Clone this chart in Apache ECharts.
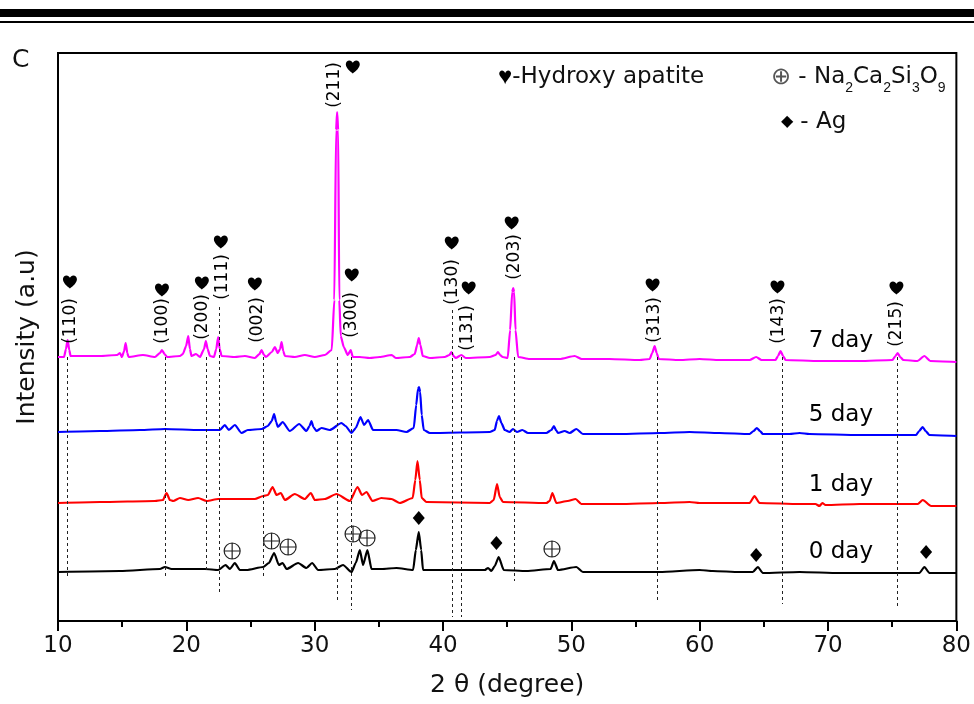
<!DOCTYPE html>
<html>
<head>
<meta charset="utf-8">
<script src="https://cdn.jsdelivr.net/npm/echarts@6/dist/echarts.min.js"></script>
<style>
  html, body { margin: 0; padding: 0; background: #fff; }
  #chart { width: 974px; height: 704px; }
</style>
</head>
<body>
<div id="chart"></div>
<script>
// XRD patterns [2θ (deg), intensity (a.u., stacked)] for each soaking time
const day0 = [
  [10,49],[14.83,50],[17.94,52],[18.33,54],[18.85,52],[21.45,52],[22.48,51],[23.06,56],[23.39,52],[23.78,58],
  [24.17,51],[24.69,51],[25.99,54],[26.43,58],[26.84,68],[27.21,56],[27.5,58],[27.81,52],[28.71,58],[29.36,53],
  [29.8,58],[30.27,51],[31.57,52],[32.21,56],[32.87,49],[33.2,58],[33.52,71],[33.77,56],[34.11,71],[34.43,52],
  [35.2,52],[36.37,53],[37.67,51],[37.88,71],[38.11,89],[38.3,71],[38.44,51],[41.3,51],[43.25,51],[43.51,53],
  [43.77,50],[44.03,55],[44.34,64],[44.73,51],[46.5,50],[48.39,52],[48.64,60],[48.96,51],[50.39,54],[50.9,49],
  [53.76,49],[56.87,49],[59.99,51],[61.02,50],[63.1,49],[64.14,49],[64.53,54],[64.92,48],[67.78,49],[70.89,48],
  [77.12,48],[77.51,54],[77.9,48],[80,48]
];
const day1 = [
  [10,118],[13.27,119],[17.55,120],[18.17,121],[18.46,128],[18.72,121],[18.98,120],[19.5,123],[20.15,121],[20.92,123],
  [21.58,120],[22.48,122],[24.17,122],[25.34,122],[25.99,125],[26.35,126],[26.72,134],[27.03,126],[27.36,128],[27.68,121],
  [28.45,127],[29.23,122],[29.7,128],[30.01,121],[30.79,122],[31.7,127],[32.74,120],[33.34,134],[33.69,126],[34.04,129],
  [34.5,120],[35.2,123],[35.98,122],[36.63,118],[37.64,123],[37.84,141],[38.01,160],[38.19,141],[38.34,123],[38.71,119],
  [43.64,118],[43.95,121],[44.21,137],[44.42,124],[44.67,119],[48.05,118],[48.31,120],[48.52,128],[48.83,118],[49.71,120],
  [50.33,122],[50.78,117],[53.76,117],[56.87,118],[59.21,119],[59.99,118],[63.89,118],[64.27,125],[64.66,118],[67.78,117],
  [69.02,117],[69.33,115],[69.56,118],[69.8,116],[72.45,117],[76.99,117],[77.38,121],[78.03,115],[80,115]
];
const day5 = [
  [10,189],[13.27,190],[16.38,191],[18.33,192],[21.06,191],[22.61,191],[23.0,196],[23.31,191],[23.78,196],[24.3,188],
  [24.79,191],[25.88,192],[26.35,195],[26.65,200],[26.84,207],[27.0,199],[27.13,194],[27.5,199],[28.06,190],[28.79,197],
  [29.36,190],[29.6,195],[29.75,200],[29.9,194],[30.14,190],[30.53,193],[31.18,191],[32.09,198],[32.4,195],[32.87,188],
  [33.2,193],[33.57,204],[33.85,196],[34.16,201],[34.55,191],[36.37,191],[37.15,189],[37.72,193],[37.91,216],[38.05,232],
  [38.13,234],[38.22,229],[38.34,206],[38.5,191],[38.97,188],[43.64,189],[44.03,191],[44.2,200],[44.36,205],[44.55,198],
  [44.81,191],[45.19,189],[45.45,192],[45.76,189],[46.18,191],[46.62,188],[48.05,188],[48.45,191],[48.64,195],[48.8,191],
  [48.96,188],[49.48,190],[49.87,188],[50.39,192],[50.9,187],[53.76,187],[56.87,188],[59.21,189],[61.55,188],[63.89,187],
  [64.2,190],[64.45,193],[64.7,190],[64.92,187],[67.0,187],[67.78,188],[68.55,187],[72.45,186],[76.86,186],[77.1,190],
  [77.38,194],[77.6,190],[77.9,186],[80.0,185]
];
const day7 = [
  [10.0,264],[10.47,264],[10.62,272],[10.75,281],[10.88,271],[10.98,265],[13.27,265],[14.6,266],[14.83,268],[14.98,264],
  [15.15,270],[15.27,278],[15.4,268],[15.5,264],[16.62,266],[17.55,264],[17.95,268],[18.1,271],[18.3,267],[18.5,264],
  [19.5,265],[19.73,267],[19.98,275],[20.15,285],[20.28,272],[20.4,265],[20.75,267],[21.06,264],[21.38,272],[21.52,280],
  [21.66,272],[21.84,265],[22.15,264],[22.33,272],[22.48,284],[22.6,272],[22.75,265],[23.78,264],[24.56,265],[25.34,263],
  [25.7,267],[25.86,271],[26.05,266],[26.2,264],[26.66,269],[26.9,274],[27.12,268],[27.3,272],[27.42,279],[27.55,270],
  [27.68,265],[28.45,264],[29.23,266],[30.01,264],[30.79,266],[31.33,271],[31.53,321],[31.67,491],[31.75,509],[31.83,491],
  [31.92,321],[32.03,285],[32.27,274],[32.58,266],[32.81,271],[32.97,264],[33.51,264],[34.29,263],[35.07,264],[36.0,266],
  [36.32,263],[37.41,264],[37.8,267],[37.98,276],[38.11,283],[38.24,276],[38.42,265],[38.97,263],[40.13,264],[40.5,266],
  [40.66,269],[40.82,265],[40.99,263],[41.43,266],[41.77,263],[43.64,264],[44.1,266],[44.28,269],[44.45,266],[44.65,264],
  [45.04,263],[45.23,291],[45.39,329],[45.47,333],[45.54,329],[45.65,291],[45.85,264],[46.75,262],[49.09,262],[50.26,265],
  [50.8,262],[52.98,262],[55.32,261],[56.1,262],[56.3,268],[56.49,275],[56.65,268],[56.81,262],[58.43,261],[59.99,262],
  [61.55,261],[63.89,261],[64.4,264],[64.82,261],[65.91,261],[66.1,265],[66.3,270],[66.5,265],[66.69,261],[69.33,260],
  [72.45,260],[75.02,261],[75.25,265],[75.43,268],[75.62,264],[75.87,261],[76.96,260],[77.51,265],[77.97,260],[80.0,259]
];

// Hydroxyapatite reflections: Miller indices and 2θ of the guide lines
const hklNames  = ['(110)','(100)','(200)','(111)','(002)','(211)','(300)','(130)','(131)','(203)','(313)','(143)','(215)'];
const hklAngles = [10.72, 18.33, 21.58, 22.54, 26.0, 31.75, 32.87, 40.71, 41.44, 45.54, 56.7, 66.44, 75.37];
// vertical extent of each dashed guide (a.u.)
const guideTop    = [264, 264, 264, 314, 264, 264, 264, 311, 264, 264, 264, 264, 264];
const guideBottom = [42, 43, 48, 29, 44, 21, 11, 4, 4, 40, 18, 17, 13];
// anchor of each index label and its heart marker [2θ, a.u.]
const hklLabelAt = [[10.99,300],[18.18,300],[21.29,304],[22.85,344],[25.57,301],[31.57,536],[32.89,306],
                    [40.76,339],[41.92,293],[45.58,364],[56.48,301],[66.14,300],[75.33,297]];
const heartAt    = [[10.93,339],[18.1,331],[21.21,338],[22.69,379],[25.34,337],[32.97,554],[32.89,346],
                    [40.68,378],[42.0,333],[45.35,398],[56.33,336],[66.06,334],[75.33,333]];

// Na2Ca2Si3O9 and Ag reflections marked on the as-prepared sample
const silicateAt = [[23.57,70],[26.64,80],[27.93,74],[32.99,87],[34.08,83],[48.49,72]];
const silverAt   = [[38.11,103],[44.16,78],[64.4,66],[77.64,69]];

// trace names and where their captions sit
const dayNames   = ['0 day', '1 day', '5 day', '7 day'];
const dayColors  = ['#000000', '#ff0000', '#0000ff', '#ff00ff'];
const dayCaption = [[71.0,69],[71.0,136],[71.0,206],[71.0,280]];
const xTicks = { min: 10, max: 80, step: 10 };

const FONT = 'DejaVu Sans';
const HEART = 'path://M12,22C12,22,1,14.8,1,7.6C1,4,3.6,1.5,6.6,1.5C9.1,1.5,11,3,12,5.2C13,3,14.9,1.5,17.4,1.5C20.4,1.5,23,4,23,7.6C23,14.8,12,22,12,22Z';
const OPLUS = 'path://M1,10A9,9,0,1,1,19,10A9,9,0,1,1,1,10ZM1,10L19,10M10,1L10,19';

const traces = [day0, day1, day5, day7];

const chart = echarts.init(document.getElementById('chart'), null, { renderer: 'canvas' });

const series = [
  {
    // dashed guides for the hydroxyapatite reflections
    type: 'line', data: [], z: 1, silent: true,
    markLine: {
      silent: true, symbol: ['none', 'none'], animation: false,
      label: { show: false },
      lineStyle: { color: '#222', width: 1, type: [3, 3] },
      data: hklAngles.map((a, i) => [{ coord: [a, guideTop[i]] }, { coord: [a, guideBottom[i]] }])
    }
  }
];

traces.forEach((d, i) => {
  series.push({
    name: dayNames[i], type: 'line', data: d, z: 3,
    showSymbol: false, symbol: 'none',
    smooth: 0.2, smoothMonotone: 'x',
    lineStyle: { color: dayColors[i], width: 2.2 },
    itemStyle: { color: dayColors[i] }
  });
});

const hidden = { color: 'rgba(0,0,0,0)', opacity: 1 };

series.push(
  {
    type: 'scatter', z: 4, silent: true,
    symbol: HEART, symbolSize: [14, 13],
    itemStyle: { color: '#000', opacity: 1 },
    data: heartAt
  },
  {
    type: 'scatter', z: 4, silent: true,
    symbolSize: 1, itemStyle: hidden,
    label: { show: true, position: 'inside', rotate: 90, formatter: '{b}',
             fontFamily: FONT, fontSize: 17, color: '#000' },
    data: hklLabelAt.map((p, i) => ({ name: hklNames[i], value: p }))
  },
  {
    type: 'scatter', z: 4, silent: true,
    symbol: OPLUS, symbolSize: 16,
    itemStyle: { color: 'rgba(0,0,0,0)', borderColor: '#222', borderWidth: 1.2, opacity: 1 },
    data: silicateAt
  },
  {
    type: 'scatter', z: 4, silent: true,
    symbol: 'diamond', symbolSize: [12, 14],
    itemStyle: { color: '#000', opacity: 1 },
    data: silverAt
  },
  {
    type: 'scatter', z: 4, silent: true,
    symbolSize: 1, itemStyle: hidden,
    label: { show: true, position: 'inside', formatter: '{b}',
             fontFamily: FONT, fontSize: 23, color: '#000' },
    data: dayCaption.map((p, i) => ({ name: dayNames[i], value: p }))
  }
);

chart.setOption({
  animation: false,
  backgroundColor: '#fff',
  textStyle: { fontFamily: FONT },
  grid: { left: 58, right: 17, top: 53, bottom: 83, show: true, borderColor: '#000', borderWidth: 2 },
  xAxis: {
    type: 'value', min: xTicks.min, max: xTicks.max, interval: xTicks.step,
    name: '2 θ (degree)', nameLocation: 'middle', nameGap: 52,
    nameTextStyle: { fontFamily: FONT, fontSize: 25, color: '#111' },
    axisLine: { show: true, lineStyle: { color: '#000', width: 2 } },
    axisTick: { show: true, inside: false, length: 10, lineStyle: { color: '#000', width: 2 } },
    minorTick: { show: true, splitNumber: 2, length: 6, lineStyle: { color: '#000', width: 2 } },
    axisLabel: { fontFamily: FONT, fontSize: 23, color: '#111', margin: 14 },
    splitLine: { show: false }
  },
  yAxis: {
    type: 'value', min: 0, max: 568,
    name: 'Intensity (a.u)', nameLocation: 'middle', nameGap: 18,
    nameTextStyle: { fontFamily: FONT, fontSize: 25, color: '#111' },
    axisLine: { show: true, lineStyle: { color: '#000', width: 2 } },
    axisTick: { show: false },
    axisLabel: { show: false },
    splitLine: { show: false }
  },
  graphic: [
    { type: 'rect', left: 0, top: 9, shape: { width: 974, height: 8 }, style: { fill: '#000' } },
    { type: 'rect', left: 0, top: 21, shape: { width: 974, height: 2 }, style: { fill: '#000' } },
    { type: 'text', x: 12, y: 60, style: { text: 'C', fontFamily: FONT, fontSize: 25, fill: '#111', textVerticalAlign: 'middle' } },
    { type: 'text', x: 498, y: 77, style: {
        text: '{h|♥}-Hydroxy apatite', fontFamily: FONT, fontSize: 23, fill: '#111', textVerticalAlign: 'middle',
        rich: { h: { fontSize: 24, fill: '#000' } } } },
    { type: 'text', x: 771, y: 77, style: {
        text: '{c|⊕} - Na{s|2}Ca{s|2}Si{s|3}O{s|9}', fontFamily: FONT, fontSize: 23, fill: '#111',
        textVerticalAlign: 'middle', lineHeight: 36,
        rich: { c: { fontSize: 24, fill: '#555', lineHeight: 36 },
                s: { fontSize: 14, lineHeight: 14, verticalAlign: 'bottom', fill: '#111' } } } },
    { type: 'text', x: 781, y: 122, style: {
        text: '{d|◆} - Ag', fontFamily: FONT, fontSize: 23, fill: '#111', textVerticalAlign: 'middle',
        rich: { d: { fontSize: 16, fill: '#000' } } } }
  ],
  series: series
});
</script>
</body>
</html>
